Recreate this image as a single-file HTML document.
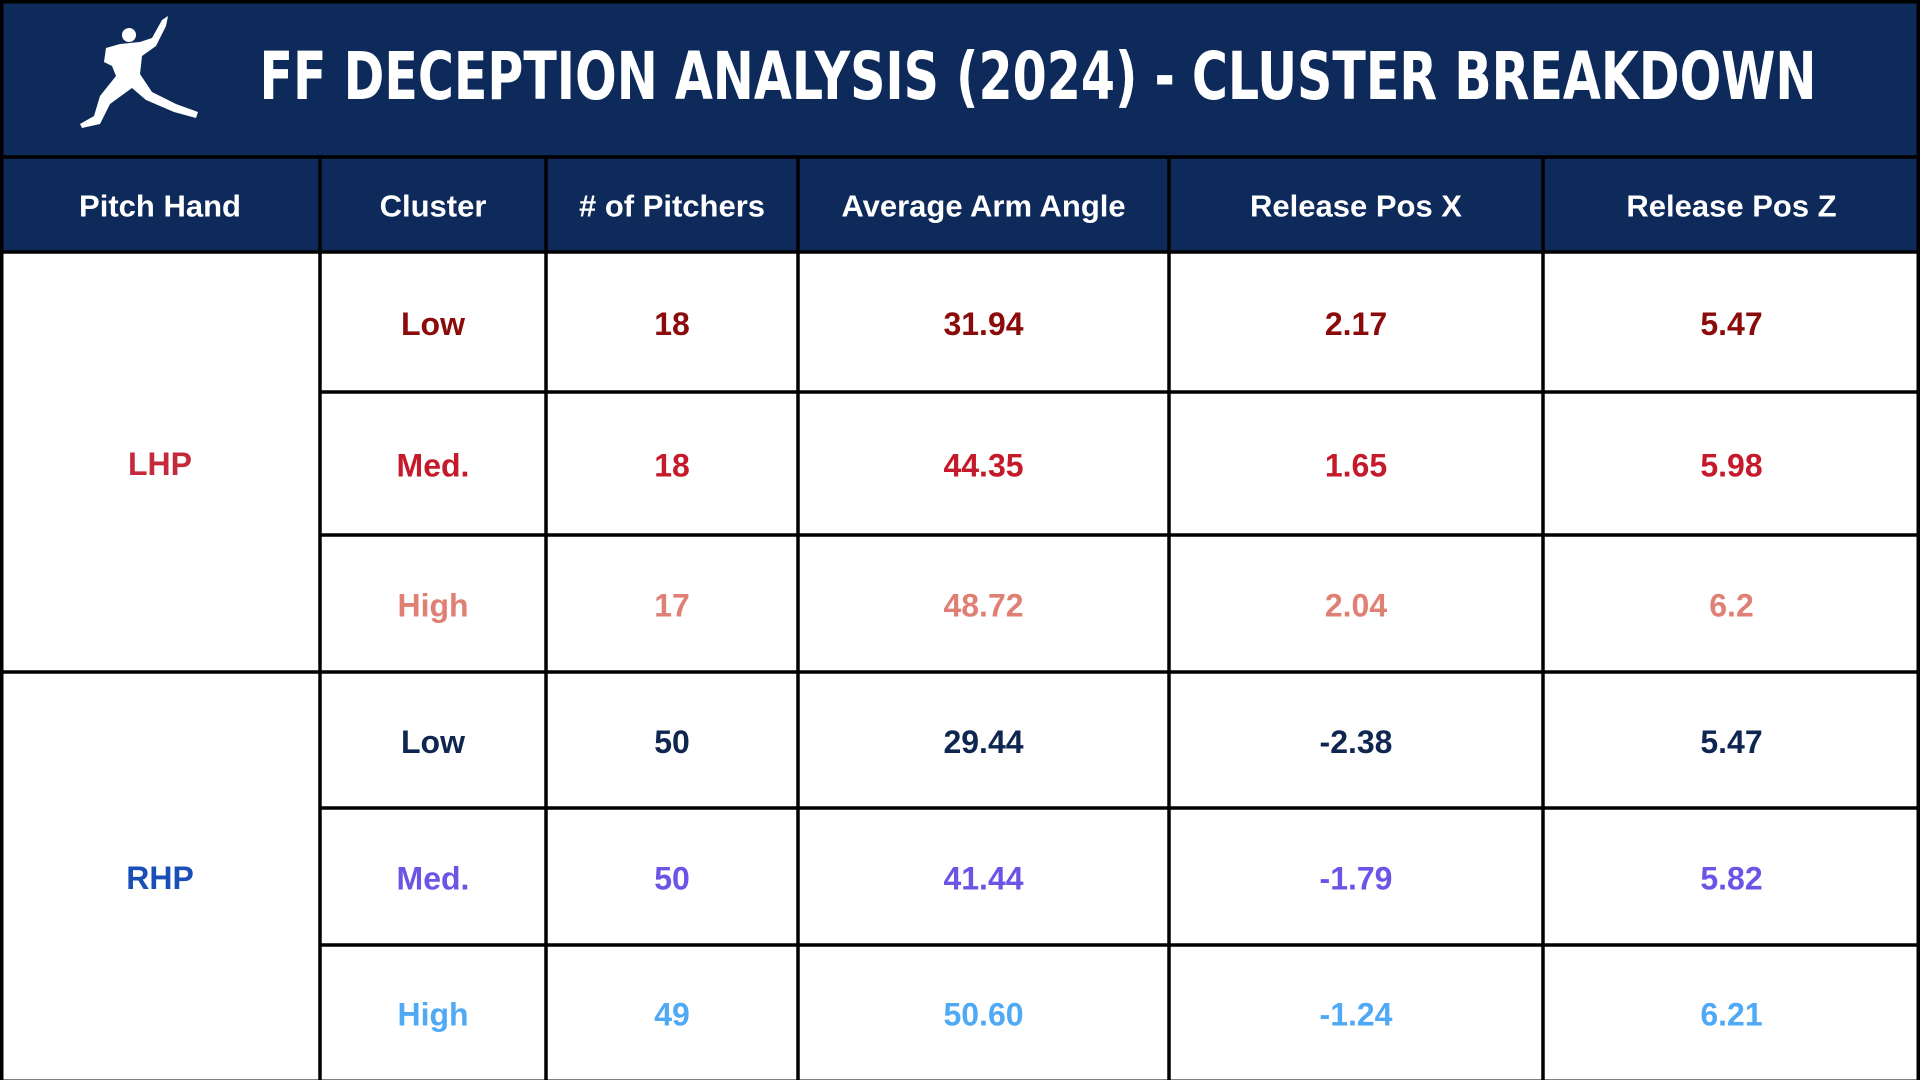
<!DOCTYPE html>
<html><head><meta charset="utf-8"><style>
html,body{margin:0;padding:0;background:#fff;}
svg{display:block;}
text{font-family:"Liberation Sans",sans-serif;font-weight:bold;}
</style></head><body>
<svg id="tbl" width="1920" height="1080" viewBox="0 0 1920 1080" xmlns="http://www.w3.org/2000/svg">
<rect x="0" y="0" width="1920" height="157" fill="#0e2a5a"/>
<rect x="0" y="157" width="1920" height="95" fill="#0e2a5a"/>
<g fill="#fff">
<circle cx="129" cy="35" r="7"/>
<path d="M120 44 L140 42 L152 38 L162 20 L168 16 L166 26 L156 46 L142 56 L140 74 L152 92 L176 104 L198 112 L196 118 L174 112 L146 100 L132 88 L110 104 L100 124 L82 128 L80 124 L94 116 L100 96 L116 76 L112 66 L104 62 L106 48 Z"/>
</g>
<text x="1038" y="99" text-anchor="middle" fill="#fff" font-size="66" textLength="1557" lengthAdjust="spacingAndGlyphs" style="font-family:'DejaVu Sans Condensed','DejaVu Sans','Liberation Sans',sans-serif;font-weight:bold;">FF DECEPTION ANALYSIS (2024) - CLUSTER BREAKDOWN</text>
<g id="body"></g>
</svg>
<script>
const headers = ["Pitch Hand","Cluster","# of Pitchers","Average Arm Angle","Release Pos X","Release Pos Z"];
const hands = ["LHP","RHP"];
const clusters = ["Low","Med.","High","Low","Med.","High"];
const pitchers = ["18","18","17","50","50","49"];
const armAngle = ["31.94","44.35","48.72","29.44","41.44","50.60"];
const relX = ["2.17","1.65","2.04","-2.38","-1.79","-1.24"];
const relZ = ["5.47","5.98","6.2","5.47","5.82","6.21"];

const colX = [0,320,546,798,1169,1543,1920];
const rowY = [252,392,535,672,808,945,1080];
const rowColors = ["#8b0a0a","#c41a2a","#e08075","#0f2650","#6a55e6","#4fa9f5"];
const handColors = ["#c42a3a","#1a4fb8"];
const NS = "http://www.w3.org/2000/svg";
const g = document.getElementById('body');
const svg = document.getElementById('tbl');
function txt(x,y,s,fill,size){
  const t=document.createElementNS(NS,'text');
  t.setAttribute('x',x);t.setAttribute('y',y+2);
  t.setAttribute('text-anchor','middle');t.setAttribute('dominant-baseline','central');
  t.setAttribute('fill',fill);t.setAttribute('font-size',size);
  t.textContent=s;g.appendChild(t);return t;
}
function line(x1,y1,x2,y2){
  const l=document.createElementNS(NS,'line');
  l.setAttribute('x1',x1);l.setAttribute('y1',y1);l.setAttribute('x2',x2);l.setAttribute('y2',y2);
  l.setAttribute('stroke','#000');l.setAttribute('stroke-width','3.5');
  
  
  g.appendChild(l);
}
headers.forEach((h,i)=>{
  const t=txt((colX[i]+colX[i+1])/2,204,h,'#fff',31);
  
  
});
const cols=[clusters,pitchers,armAngle,relX,relZ];
for(let r=0;r<clusters.length;r++){
  const cy=(rowY[r]+rowY[r+1])/2;
  cols.forEach((arr,c)=>{
    const t=txt((colX[c+1]+colX[c+2])/2,cy,arr[r],rowColors[r],32);
    
    
  });
}
hands.forEach((h,i)=>{
  const cy=(rowY[i*3]+rowY[i*3+3])/2;
  const t=txt((colX[0]+colX[1])/2,cy,h,handColors[i],32);
  
  
});
line(0,157,1920,157);
line(0,252,1920,252);
line(0,672,1920,672);
[1,2,4,5].forEach(i=>line(colX[1],rowY[i],1920,rowY[i]));
for(let i=1;i<6;i++) line(colX[i],157,colX[i],1080);
const b=document.createElementNS(NS,'rect');
b.setAttribute('x',1.5);b.setAttribute('y',1.5);b.setAttribute('width',1917);b.setAttribute('height',1080);
b.setAttribute('fill','none');b.setAttribute('stroke','#000');b.setAttribute('stroke-width','4');


svg.appendChild(b);
</script>
</body></html>
